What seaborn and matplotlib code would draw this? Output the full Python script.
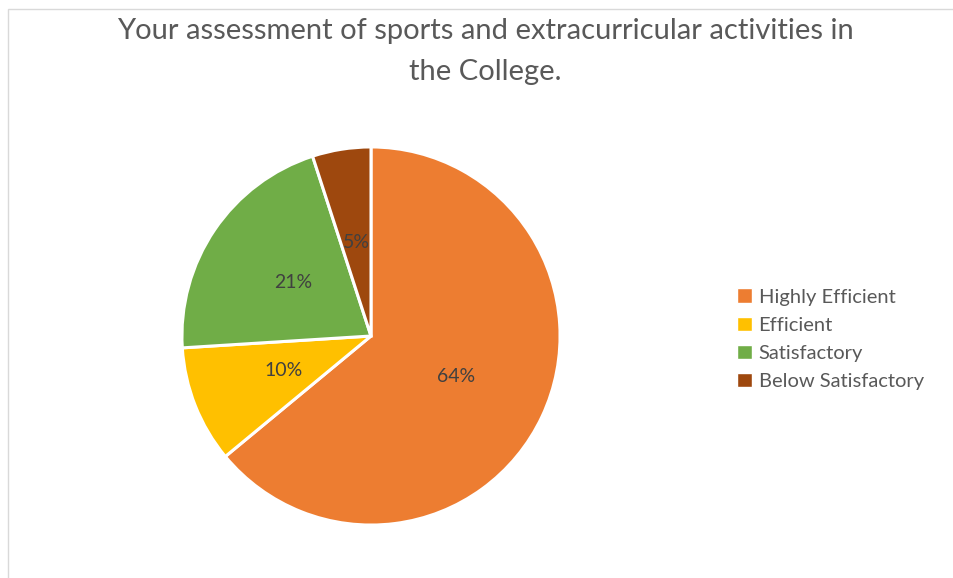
import matplotlib
matplotlib.use("Agg")
import matplotlib.pyplot as plt
import matplotlib.patches as mpatches
import seaborn as sns

# 응답 항목과 비율(%)
categories = ['Highly Efficient', 'Efficient', 'Satisfactory', 'Below Satisfactory']
values = [64, 10, 21, 5]
colors = ['#ED7D31', '#FFC000', '#70AD47', '#9E480E']
title = 'Your assessment of sports and extracurricular activities in\nthe College.'

sns.set_theme(style='white')
plt.rcParams['font.family'] = ['Lato', 'DejaVu Sans']

fig = plt.figure(figsize=(9.54, 5.78), dpi=100)
# 파이 중심 (371, 336), 반지름 약 189px
ax = fig.add_axes([(371 - 190) / 954, (242 - 190) / 578, 380 / 954, 380 / 578])

wedges, texts, autotexts = ax.pie(
    values, colors=sns.color_palette(colors), startangle=90, counterclock=False,
    autopct='%1.0f%%', pctdistance=0.5,
    wedgeprops=dict(edgecolor='white', linewidth=2.2),
    textprops=dict(color='#404040', fontsize=14))
ax.set_xlim(-1.005, 1.005)
ax.set_ylim(-1.005, 1.005)
ax.set_aspect('equal')

fig.text(0.509, 0.968, title, ha='center', va='top', fontsize=21,
         color='#595959', linespacing=1.68)

handles = [mpatches.Patch(facecolor=c, label=l) for c, l in zip(colors, categories)]
leg = fig.legend(handles=handles, loc='center left', bbox_to_anchor=(0.773, 0.413),
                 frameon=False, fontsize=14.5, handlelength=0.7, handleheight=0.7,
                 handletextpad=0.35, labelspacing=0.55, borderpad=0, borderaxespad=0)
for t in leg.get_texts():
    t.set_color('#595959')

# 차트 영역 테두리
fig.patches.append(mpatches.Rectangle((8 / 954, -0.1), 1.2, 1 - 9 / 578 + 0.1,
                                      transform=fig.transFigure, fill=False,
                                      edgecolor='#d9d9d9', linewidth=1))

plt.savefig('out.png', dpi=100)
